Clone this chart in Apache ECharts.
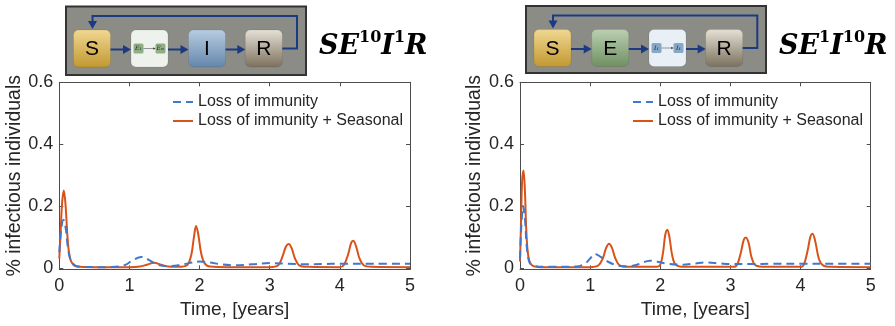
<!DOCTYPE html>
<html>
<head>
<meta charset="utf-8">
<script src="https://cdn.jsdelivr.net/npm/echarts@6/dist/echarts.min.js"></script>
<style>
  html, body { margin: 0; padding: 0; background: #fff; }
  #chart { width: 895px; height: 326px; }
</style>
</head>
<body>
<div id="chart"></div>
<script>
// ---------- DATA ----------
const seriesNames = ['Loss of immunity', 'Loss of immunity + Seasonal'];
const xTicks = [0, 1, 2, 3, 4, 5];
const yTicks = [0, 0.2, 0.4, 0.6];
const leftTitle = ['SE', '10', 'I', '1', 'R'];
const rightTitle = ['SE', '1', 'I', '10', 'R'];

// Left panel: SE^10 I^1 R  — [time (years), fraction infectious]
const leftLoss = [[0,0.05],[0.03,0.13],[0.06,0.155],[0.09,0.13],[0.12,0.07],[0.16,0.025],[0.22,0.008],[0.3,0.003],[0.6,0.002],[0.85,0.004],[0.95,0.01],[1.05,0.025],[1.17,0.035],[1.28,0.025],[1.4,0.01],[1.55,0.005],[1.7,0.008],[1.85,0.015],[2.0,0.02],[2.15,0.017],[2.3,0.011],[2.5,0.008],[2.75,0.011],[3.0,0.015],[3.25,0.013],[3.5,0.011],[3.75,0.012],[4.0,0.013],[4.5,0.013],[5,0.013]];
const leftSeasonal = [[0,0.03],[0.02,0.12],[0.04,0.21],[0.065,0.25],[0.09,0.2],[0.12,0.09],[0.15,0.035],[0.2,0.01],[0.3,0.003],[0.5,0.002],[0.8,0.002],[1.0,0.002],[1.15,0.004],[1.25,0.01],[1.35,0.016],[1.45,0.01],[1.55,0.004],[1.7,0.003],[1.82,0.008],[1.88,0.04],[1.92,0.1],[1.95,0.135],[1.98,0.11],[2.02,0.05],[2.07,0.015],[2.15,0.004],[2.4,0.002],[3.0,0.002],[3.12,0.008],[3.18,0.035],[3.23,0.068],[3.27,0.077],[3.31,0.065],[3.36,0.03],[3.42,0.008],[3.55,0.003],[4.0,0.002],[4.06,0.01],[4.12,0.045],[4.16,0.08],[4.19,0.087],[4.23,0.07],[4.28,0.03],[4.34,0.008],[4.45,0.003],[5,0.002]];

// Right panel: SE^1 I^10 R
const rightLoss = [[0,0.03],[0.02,0.14],[0.045,0.2],[0.07,0.16],[0.1,0.06],[0.14,0.015],[0.2,0.006],[0.4,0.003],[0.8,0.004],[0.92,0.012],[1.0,0.03],[1.07,0.045],[1.15,0.035],[1.25,0.02],[1.4,0.007],[1.55,0.005],[1.7,0.012],[1.85,0.023],[1.95,0.02],[2.1,0.013],[2.3,0.01],[2.5,0.014],[2.65,0.017],[2.85,0.014],[3.0,0.012],[3.3,0.012],[3.6,0.013],[4.0,0.013],[4.5,0.013],[5,0.013]];
const rightSeasonal = [[0,0.02],[0.015,0.15],[0.03,0.28],[0.05,0.315],[0.07,0.25],[0.09,0.12],[0.12,0.035],[0.17,0.008],[0.3,0.002],[1.0,0.002],[1.12,0.008],[1.18,0.03],[1.23,0.065],[1.27,0.078],[1.31,0.065],[1.36,0.03],[1.42,0.008],[1.55,0.003],[1.95,0.003],[2.0,0.01],[2.04,0.05],[2.07,0.105],[2.1,0.123],[2.13,0.1],[2.17,0.04],[2.22,0.01],[2.35,0.003],[3.05,0.003],[3.1,0.012],[3.15,0.05],[3.19,0.09],[3.22,0.098],[3.26,0.08],[3.3,0.035],[3.36,0.008],[3.5,0.003],[4.0,0.003],[4.05,0.012],[4.1,0.055],[4.14,0.1],[4.17,0.11],[4.21,0.085],[4.26,0.03],[4.32,0.008],[4.45,0.003],[5,0.002]];

// ---------- STYLE ----------
const FONT = "'Liberation Sans', Arial, Helvetica, sans-serif";
const TXT = '#262626';
const AX = '#4d4d4d';
const BLUE = '#3f78cf';
const ORANGE = '#D95319';
const NAVY = '#1b3a82';

const grids = [
  { left: 59.3, top: 82.3, width: 350.7, height: 187 },
  { left: 520, top: 82.3, width: 350.7, height: 187 }
];

function xAxes(gi) {
  return [
    { type: 'value', gridIndex: gi, position: 'bottom', min: 0, max: 5, interval: 1,
      axisLine: { show: true, onZero: false, lineStyle: { color: AX, width: 1 } },
      axisTick: { show: true, inside: true, length: 4, lineStyle: { color: AX } },
      axisLabel: { show: true, margin: 8, color: TXT, fontSize: 18, fontFamily: FONT },
      splitLine: { show: false },
      name: 'Time, [years]', nameLocation: 'middle', nameGap: 29,
      nameTextStyle: { color: TXT, fontSize: 19, fontFamily: FONT } },
    { type: 'value', gridIndex: gi, position: 'top', min: 0, max: 5, interval: 1,
      axisLine: { show: true, onZero: false, lineStyle: { color: AX, width: 1 } },
      axisTick: { show: true, inside: true, length: 4, lineStyle: { color: AX } },
      axisLabel: { show: false }, splitLine: { show: false } }
  ];
}
function yAxes(gi) {
  return [
    { type: 'value', gridIndex: gi, position: 'left', min: -0.005, max: 0.6,
      axisLine: { show: true, onZero: false, lineStyle: { color: AX, width: 1 } },
      axisTick: { show: true, inside: true, length: 4, customValues: yTicks, lineStyle: { color: AX } },
      axisLabel: { show: true, margin: 6, color: TXT, fontSize: 18, fontFamily: FONT, customValues: yTicks,
        formatter: v => (v === 0 ? '0' : v.toFixed(1)) },
      splitLine: { show: false },
      name: '% infectious individuals', nameLocation: 'middle', nameGap: 34, nameRotate: 90,
      nameTextStyle: { color: TXT, fontSize: 19.5, fontFamily: FONT } },
    { type: 'value', gridIndex: gi, position: 'right', min: -0.005, max: 0.6,
      axisLine: { show: true, onZero: false, lineStyle: { color: AX, width: 1 } },
      axisTick: { show: true, inside: true, length: 4, customValues: yTicks, lineStyle: { color: AX } },
      axisLabel: { show: false }, splitLine: { show: false } }
  ];
}

function lineSeries(name, data, gi, dashed) {
  return {
    type: 'line', name: name, data: data,
    xAxisIndex: gi * 2, yAxisIndex: gi * 2,
    symbol: 'none', smooth: 0.35, z: dashed ? 3 : 2,
    lineStyle: { color: dashed ? BLUE : ORANGE, width: 2, type: dashed ? [8, 5] : 'solid' },
    itemStyle: { color: dashed ? BLUE : ORANGE },
    animation: false
  };
}

function legend(leftPx) {
  return {
    orient: 'vertical', left: leftPx, top: 89,
    itemWidth: 20, itemHeight: 16, itemGap: 3,
    data: seriesNames,
    itemStyle: { opacity: 0 },
    textStyle: { color: TXT, fontSize: 16, fontFamily: FONT, lineHeight: 16 },
    selectedMode: false
  };
}

// ---------- DIAGRAM (decorative, not data) ----------
function grad(top, bottom) {
  return { type: 'linear', x: 0, y: 0, x2: 0, y2: 1,
    colorStops: [{ offset: 0, color: top }, { offset: 1, color: bottom }] };
}
function box(x, y, w, h, fill, label) {
  const els = [{ type: 'rect', shape: { x: x, y: y, width: w, height: h, r: 5 },
    style: { fill: fill, stroke: 'rgba(0,0,0,0.08)', lineWidth: 1 } }];
  if (label) els.push({ type: 'text', x: x + w / 2, y: y + h / 2 + 1,
    style: { text: label, fill: '#000', fontSize: 21, fontFamily: FONT, align: 'center', verticalAlign: 'middle' } });
  return els;
}
function arrowH(x1, x2, y) {
  return [
    { type: 'line', shape: { x1: x1, y1: y, x2: x2 - 6, y2: y }, style: { stroke: NAVY, lineWidth: 2 } },
    { type: 'polygon', shape: { points: [[x2, y], [x2 - 8, y - 4.5], [x2 - 8, y + 4.5]] }, style: { fill: NAVY } }
  ];
}
function smallBox(x, y, label, fill) {
  return [
    { type: 'rect', shape: { x: x, y: y, width: 10, height: 10, r: 1.5 }, style: { fill: fill } },
    { type: 'text', x: x + 5, y: y + 5, style: { text: label, fill: '#222', fontSize: 6,
      fontFamily: "'DejaVu Serif', serif", fontStyle: 'italic', align: 'center', verticalAlign: 'middle' } }
  ];
}
function diagram(o) {
  const els = [];
  els.push({ type: 'rect', shape: { x: o.gx, y: o.gy, width: o.gw, height: o.gh },
    style: { fill: '#8c8c86', stroke: '#333', lineWidth: 2 } });
  const by = o.by, bs = 37, cy = by + bs / 2 + 1;
  const xs = o.xs;
  o.fills.forEach((f, i) => els.push(...box(xs[i], by, bs, bs, f, o.labels[i])));
  for (let i = 0; i < 3; i++) els.push(...arrowH(xs[i] + bs, xs[i + 1], cy));
  // feedback loop R -> S
  const rx = o.loopX, ty = o.gy + 9.5, sx = xs[0] + 19;
  els.push({ type: 'polyline', shape: { points: [[xs[3] + bs, cy - 1], [rx, cy - 1], [rx, ty], [sx, ty], [sx, by - 7]] },
    style: { stroke: NAVY, lineWidth: 2, fill: null } });
  els.push({ type: 'polygon', shape: { points: [[sx, by - 1], [sx - 4.5, by - 9], [sx + 4.5, by - 9]] }, style: { fill: NAVY } });
  // small chained boxes
  const si = o.smallIdx, sxx = xs[si];
  els.push(...smallBox(sxx + 2.5, cy - 6, o.small[0], o.smallFill));
  els.push(...smallBox(sxx + 24.5, cy - 6, o.small[1], o.smallFill));
  els.push({ type: 'line', shape: { x1: sxx + 12.5, y1: cy - 1, x2: sxx + 23, y2: cy - 1 }, style: { stroke: '#555', lineWidth: 0.6 } });
  els.push({ type: 'polygon', shape: { points: [[sxx + 24.5, cy - 1], [sxx + 22.3, cy - 2.3], [sxx + 22.3, cy + 0.3]] }, style: { fill: '#333' } });
  return els;
}
function title(x, parts) {
  return { type: 'text', x: x, y: 30, style: {
    text: '{b|' + parts[0] + '}{s|' + parts[1] + '}{b|' + parts[2] + '}{s|' + parts[3] + '}{b|' + parts[4] + '}',
    rich: {
      b: { fontSize: 27, fontWeight: 'bold', fontStyle: 'italic', fontFamily: "'DejaVu Serif', serif", fill: '#000', lineHeight: 30, verticalAlign: 'bottom' },
      s: { fontSize: 16, fontWeight: 'bold', fontFamily: "'DejaVu Serif', serif", fill: '#000', lineHeight: 18, verticalAlign: 'top' }
    } } };
}

const S_FILL = grad('#f0d892', '#c29830');
const E_FILL = grad('#bcd0b2', '#6f8f62');
const I_FILL = grad('#b8cde2', '#6386aa');
const R_FILL = grad('#e6e1d7', '#7b705c');
const E_LIGHT = '#eef2ec';
const I_LIGHT = '#e9eff6';

const graphics = [].concat(
  diagram({ gx: 66, gy: 6.5, gw: 240, gh: 68.5, by: 30, xs: [73.5, 131, 188.5, 245.3],
    fills: [S_FILL, E_LIGHT, I_FILL, R_FILL], labels: ['S', '', 'I', 'R'], loopX: 297,
    smallIdx: 1, small: ['E₁', 'Eₘ'], smallFill: '#8fae85' }),
  diagram({ gx: 526, gy: 6, gw: 240, gh: 67, by: 29.5, xs: [534, 591.7, 649, 705.7],
    fills: [S_FILL, E_FILL, I_LIGHT, R_FILL], labels: ['S', 'E', '', 'R'], loopX: 757.3,
    smallIdx: 2, small: ['I₁', 'I₁'], smallFill: '#86a7c6' }),
  [title(319, leftTitle), title(779, rightTitle)]
);

const chart = echarts.init(document.getElementById('chart'), null, { renderer: 'canvas' });
chart.setOption({
  backgroundColor: '#fff',
  animation: false,
  grid: grids.map(g => Object.assign({ show: false, containLabel: false }, g)),
  xAxis: [...xAxes(0), ...xAxes(1)],
  yAxis: [...yAxes(0), ...yAxes(1)],
  legend: [legend(167), legend(627)],
  series: [
    lineSeries(seriesNames[0], leftLoss, 0, true),
    lineSeries(seriesNames[1], leftSeasonal, 0, false),
    lineSeries(seriesNames[0], rightLoss, 1, true),
    lineSeries(seriesNames[1], rightSeasonal, 1, false)
  ],
  graphic: graphics
});
</script>
</body>
</html>
